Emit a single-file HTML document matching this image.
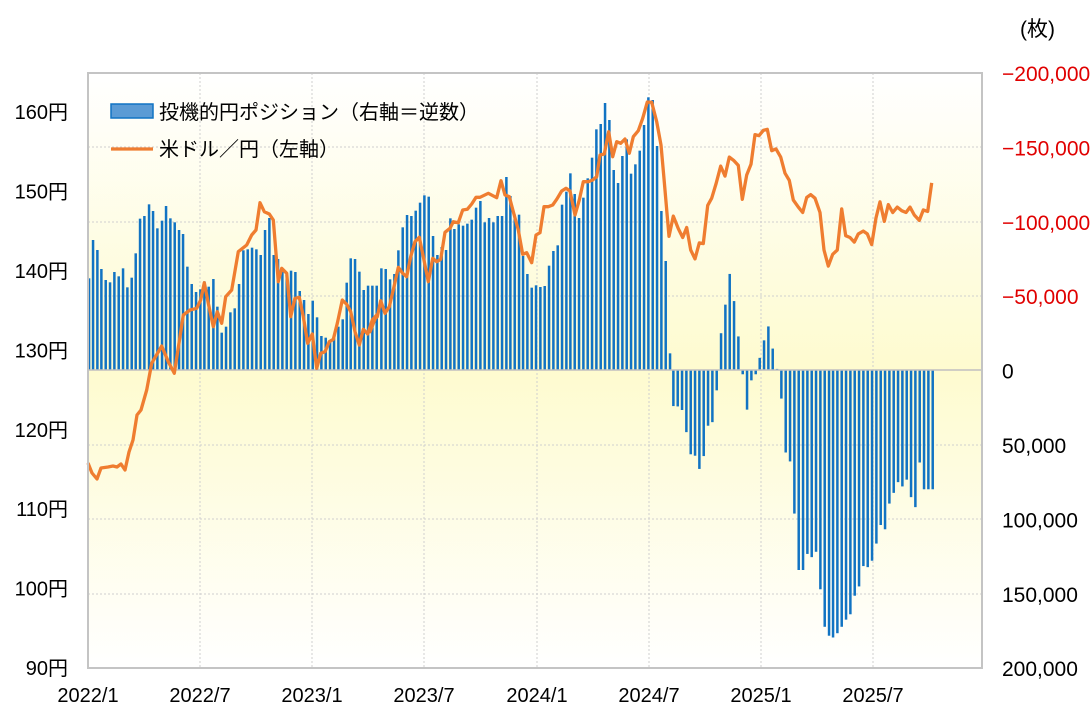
<!DOCTYPE html>
<html><head><meta charset="utf-8"><style>
body{margin:0;background:#fff;}
svg text{font-family:"Liberation Sans","Noto Sans CJK JP",sans-serif;}
</style></head><body>
<svg id="s" width="1090" height="712" xmlns="http://www.w3.org/2000/svg">
<defs>
<linearGradient id="gt" x1="0" y1="0" x2="0" y2="1"><stop offset="0" stop-color="#ffffff"/><stop offset="1" stop-color="#fefbcf"/></linearGradient>
<linearGradient id="gb" x1="0" y1="0" x2="0" y2="1"><stop offset="0" stop-color="#fefbcf"/><stop offset="1" stop-color="#ffffff"/></linearGradient>
</defs>
<rect x="88" y="73" width="894" height="297" fill="url(#gt)"/>
<rect x="88" y="370" width="894" height="298" fill="url(#gb)"/>
<g id="grid" stroke="#cfcfcf" stroke-width="1" stroke-dasharray="2,2"></g>
<g id="bars" fill="#1173c3"></g>
<line x1="88" y1="370" x2="982" y2="370" stroke="#c0c0c0" stroke-width="1.5"/>
<polyline id="ln" fill="none" stroke="#ef7d30" stroke-width="3.3" stroke-linejoin="round"/>
<rect x="88" y="73" width="894" height="595" fill="none" stroke="#c4c4c4" stroke-width="2"/>
<g id="lbl" font-size="20"></g>
<rect x="111" y="104" width="42" height="14" fill="#5b9bd5" stroke="#1173c3" stroke-width="1.5"/>
<text x="159" y="119" font-size="20" fill="#000">投機的円ポジション（右軸＝逆数）</text>
<line x1="111" y1="149" x2="153" y2="149" stroke="#ef7d30" stroke-width="3.3"/>
<text x="159" y="156" font-size="20" fill="#000">米ドル／円（左軸）</text>
<text x="1020" y="36" font-size="21" fill="#000">(枚)</text>
</svg>
<script>
var NS="http://www.w3.org/2000/svg";
function el(p,t,a,txt){var e=document.createElementNS(NS,t);for(var k in a)e.setAttribute(k,a[k]);if(txt!==undefined)e.textContent=txt;document.getElementById(p).appendChild(e);}
[147,222,296,445,519,594].forEach(function(y){el("grid","line",{x1:88,x2:982,y1:y,y2:y});});
var xs=[200,312,424,537,649,761,873];
xs.forEach(function(x){el("grid","line",{x1:x,x2:x,y1:73,y2:668});});
var ll=["90円","100円","110円","120円","130円","140円","150円","160円"];
for(var i=0;i<8;i++){el("lbl","text",{x:68,y:668-i*79.4+7,"text-anchor":"end","font-size":20},ll[i]);}
var rl=[["-200,000","#e00000"],["-150,000","#e00000"],["-100,000","#e00000"],["-50,000","#e00000"],["0","#000"],["50,000","#000"],["100,000","#000"],["150,000","#000"],["200,000","#000"]];
for(var i=0;i<9;i++){var lab=rl[i][0].replace("-","−");el("lbl","text",{x:1002,y:73+i*74.4+8,fill:rl[i][1],"font-size":21},lab);}
var xl=["2022/1","2022/7","2023/1","2023/7","2024/1","2024/7","2025/1","2025/7"];
var xp=[88,200,312,424,537,649,761,873];
for(var i=0;i<8;i++)el("lbl","text",{x:xp[i],y:702,"text-anchor":"middle","font-size":20},xl[i]);
var z1=[[27,655],[39,540],[52,570],[64,627],[77,660],[90,667],[103,636],[116,649],[129,625],[142,682],[155,653],[167,580],[180,476],[193,468],[207,433],[219,453],[232,505],[246,482],[258,438],[271,475],[284,487],[297,510],[309,522],[322,620],[335,672],[348,696],[361,688],[373,664],[386,680],[400,657],[412,740],[425,818],[438,800],[451,757],[464,745],[477,672],[490,571],[503,568],[516,563],[529,568],[542,585],[555,510],[568,474],[581,585],[594,597],[607,625],[620,643],[633,632],[646,636],[659,693],[672,720],[685,762],[698,722],[711,772],[724,828],[737,833],[750,840],[762,835],[775,800],[788,778],[800,668],[812,595],[825,597],[838,635],[851,690],[864,677],[877,677],[890,677]];
var z2=[[34,625],[47,627],[60,658],[73,642],[85,571],[98,502],[111,465],[124,468],[137,452],[150,428],[163,406],[176,410],[189,528],[202,585],[215,561],[228,570],[241,475],[253,507],[266,493],[279,497],[292,491],[305,479],[318,443],[331,423],[344,487],[357,474],[370,487],[383,468],[396,468],[409,351],[421,408],[434,464],[447,464],[459,588],[472,642],[485,683],[498,676],[511,681],[524,678],[537,617],[550,573],[563,556],[576,434],[589,395],[601,340],[614,402],[627,474],[640,413],[653,355],[666,293],[679,208],[692,192],[705,129],[718,180],[731,330],[744,369],[757,288],[770,238],[783,341],[796,313],[809,272],[822,195],[835,112],[848,120],[861,258],[874,453],[887,603],[900,880]];
var z3=[[40,857],[53,858],[66,868],[79,930],[92,992],[105,996],[118,1033],[131,997],[144,912],[157,902],[170,813],[183,653],[196,573],[209,487],[222,563],[235,662],[248,768],[261,867],[274,785],[287,768],[299,722],[312,673],[325,634],[338,696],[351,753],[364,836],[377,987],[390,1012],[403,1158],[416,1316],[429,1316],[442,1271],[455,1280],[468,1265],[481,1370],[494,1475],[507,1500],[519,1505],[532,1493],[545,1475],[558,1455],[571,1440],[584,1388],[597,1362],[610,1305],[623,1308],[636,1290],[649,1242],[662,1190],[675,1202],[688,1130],[701,1100],[714,1070],[727,1082],[740,1063],[753,1112],[766,1140],[779,1015],[792,1090],[805,1090],[818,1090]];
function bar(x,y){var t=Math.min(y,370),h=Math.abs(y-370);if(h<0.5)h=0.8;el("bars","rect",{x:x-1.2,y:t,width:2.5,height:h});}
z1.forEach(function(p){bar(80+p[0]/3,60+p[1]/3);});
z2.forEach(function(p){bar(370+p[0]/3,60+p[1]/3);});
z3.forEach(function(p){bar(660+p[0]/3,100+p[1]/2.8);});
var pts=[[88,463],[92,473],[97,479],[101,468],[108,467],[113,466],[117,467],[121,464],[125,470],[129,452],[133,440],[137,415],[141,410]];
var l1=[[200,990],[215,910],[245,858],[265,905],[283,940],[300,830],[310,765],[330,750],[350,745],[362,720],[373,668],[385,730],[400,800],[412,755],[425,790],[437,710],[455,690],[475,575],[500,555],[515,525],[528,510],[540,428],[553,455],[568,462],[580,480],[595,665],[605,625],[620,640],[632,770],[645,715],[658,712],[670,770],[683,850],[697,822],[710,925],[722,880],[735,875],[748,845],[760,838],[772,790],[787,720],[800,733],[812,755],[825,815],[838,855],[850,808],[863,822],[877,780],[890,765]];
l1.forEach(function(p){pts.push([80+p[0]/3,60+p[1]/3]);});
var l2=[[0,815],[10,780],[22,770],[32,722],[45,760],[58,740],[72,680],[85,622],[98,640],[110,650],[122,590],[135,545],[148,532],[160,590],[175,665],[188,595],[200,605],[212,598],[225,517],[240,505],[250,485],[265,488],[278,450],[292,448],[305,432],[318,412],[330,412],[355,400],[380,413],[393,362],[405,405],[418,410],[430,455],[445,510],[458,583],[470,578],[485,608],[498,525],[510,518],[522,440],[535,440],[548,435],[560,418],[575,393],[588,385],[600,393],[615,465],[628,420],[640,365],[655,365],[668,360],[680,350],[690,285],[703,282],[716,215],[728,290],[740,245],[752,250],[765,237],[778,280],[790,230],[805,212],[818,175],[832,126],[845,127],[860,185],[873,255]];
l2.forEach(function(p){pts.push([370+p[0]/3,60+p[1]/3]);});
var l3=[[12,220],[27,382],[40,325],[55,360],[68,385],[80,357],[92,420],[105,445],[118,400],[130,402],[143,295],[155,275],[168,235],[182,185],[195,213],[208,160],[222,170],[235,183],[247,278],[260,210],[273,180],[285,97],[297,100],[310,85],[322,82],[335,142],[348,137],[362,160],[375,205],[388,225],[400,280],[415,300],[428,315],[440,273],[452,265],[465,275],[480,315],[492,420],[505,465],[518,432],[532,420],[545,305],[557,380],[570,385],[583,398],[595,375],[610,367],[622,375],[635,405],[648,330],[660,285],[673,340],[685,293],[698,315],[712,300],[725,310],[738,315],[750,300],[763,322],[778,337],[790,308],[803,312],[815,232]];
l3.forEach(function(p){pts.push([660+p[0]/3,100+p[1]/2.8]);});
document.getElementById("ln").setAttribute("points",pts.map(function(p){return p[0].toFixed(1)+","+p[1].toFixed(1);}).join(" "));
</script>
</body></html>
